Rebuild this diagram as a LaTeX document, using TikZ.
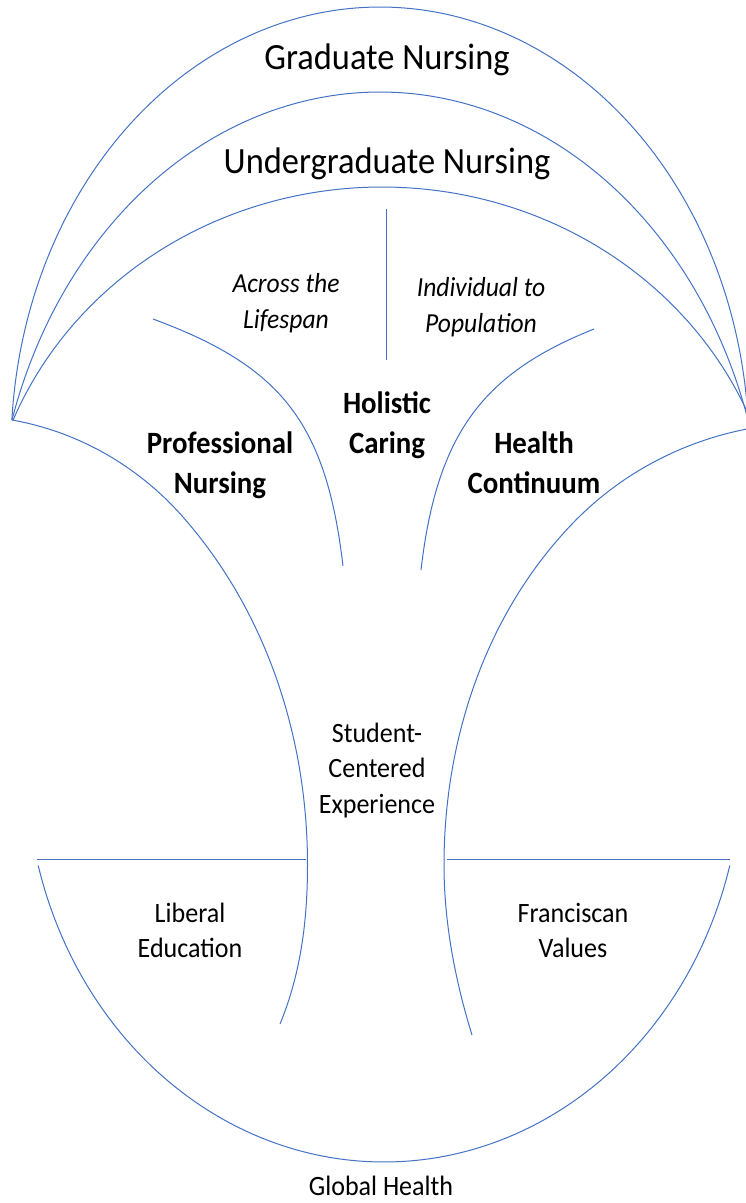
\documentclass[tikz,border=0pt]{standalone}
\usepackage{fontspec}
\setmainfont{Carlito}[FakeStretch=0.93]
\definecolor{lineblue}{HTML}{4472C4}
\newcommand{\stacklines}[1]{\begin{tabular}[t]{@{}c@{}}#1\end{tabular}}
\begin{document}
\begin{tikzpicture}[x=1pt,y=-1pt,
  shapeline/.style={draw=lineblue, line width=1pt},
  lbl/.style={anchor=base, inner sep=0pt, text=black},
  bigtext/.style={lbl, font=\fontsize{37}{44}\selectfont},
  italtext/.style={lbl, font=\fontsize{27.5}{36}\selectfont\itshape},
  boldtext/.style={lbl, font=\fontsize{31}{40}\selectfont\bfseries},
  plaintext/.style={lbl, font=\fontsize{28}{35.5}\selectfont}]
\useasboundingbox (0,0) rectangle (745,1203);
\fill[white] (0,0) rectangle (745,1203);

% outer arcs
\draw[shapeline] plot[domain=176.1:3.9, samples=160] ({380+369*cos(\x)},{450-443*sin(\x)});
\draw[shapeline] plot[domain=162.6:17.4, samples=160] ({380+385.7*cos(\x)},{560-468*sin(\x)});
\draw[shapeline] plot[domain=158:22, samples=160] ({382+398*cos(\x)},{560-373*sin(\x)});

% divider
\draw[shapeline] (386,209) -- (386,360);

% inner arcs
\draw[shapeline] (153,319) .. controls (280,366) and (326,421) .. (343,566);
\draw[shapeline] (594,329) .. controls (484,373) and (437,432) .. (421,570);

% big stem curves
\draw[shapeline] (12,420) .. controls (78.4,431.7) and (138.5,466.4) .. (183,517)
  .. controls (266.8,612.4) and (307.5,738) .. (307.5,865)
  .. controls (307.5,920) and (301,973) .. (280,1024);
\draw[shapeline] (747,429) .. controls (680.7,441.9) and (619.9,474.4) .. (573,523)
  .. controls (485.7,613.4) and (444,739.3) .. (444,865)
  .. controls (444,922) and (455,980) .. (472,1035);

% horizontal lines
\draw[shapeline] (37,859) -- (306,859);
\draw[shapeline] (447,859) -- (730,859);

% bowl
\draw[shapeline] plot[domain=195:345, samples=160] ({384+358*cos(\x)},{762-400*sin(\x)});

% labels
\node[bigtext] (grad) at (387,69) {Graduate Nursing};
\node[bigtext] (ugrad) at (387,173) {Undergraduate Nursing};
\node[italtext] (across) at (286,292) {\stacklines{Across the\\Lifespan}};
\node[italtext] (indiv) at (481,296) {\stacklines{Individual to\\Population}};
\node[boldtext] (holistic) at (387,413) {\stacklines{Holistic\\Caring}};
\node[boldtext] (prof) at (220,453) {\stacklines{Professional\\Nursing}};
\node[boldtext] (health) at (534,453) {\stacklines{Health\\Continuum}};
\node[plaintext] (student) at (377,742) {\stacklines{Student-\\Centered\\Experience}};
\node[plaintext] (liberal) at (190,922) {\stacklines{Liberal\\Education}};
\node[plaintext] (francis) at (573,922) {\stacklines{Franciscan\\Values}};
\node[plaintext] (global) at (381,1195) {Global Health};
\end{tikzpicture}
\end{document}
